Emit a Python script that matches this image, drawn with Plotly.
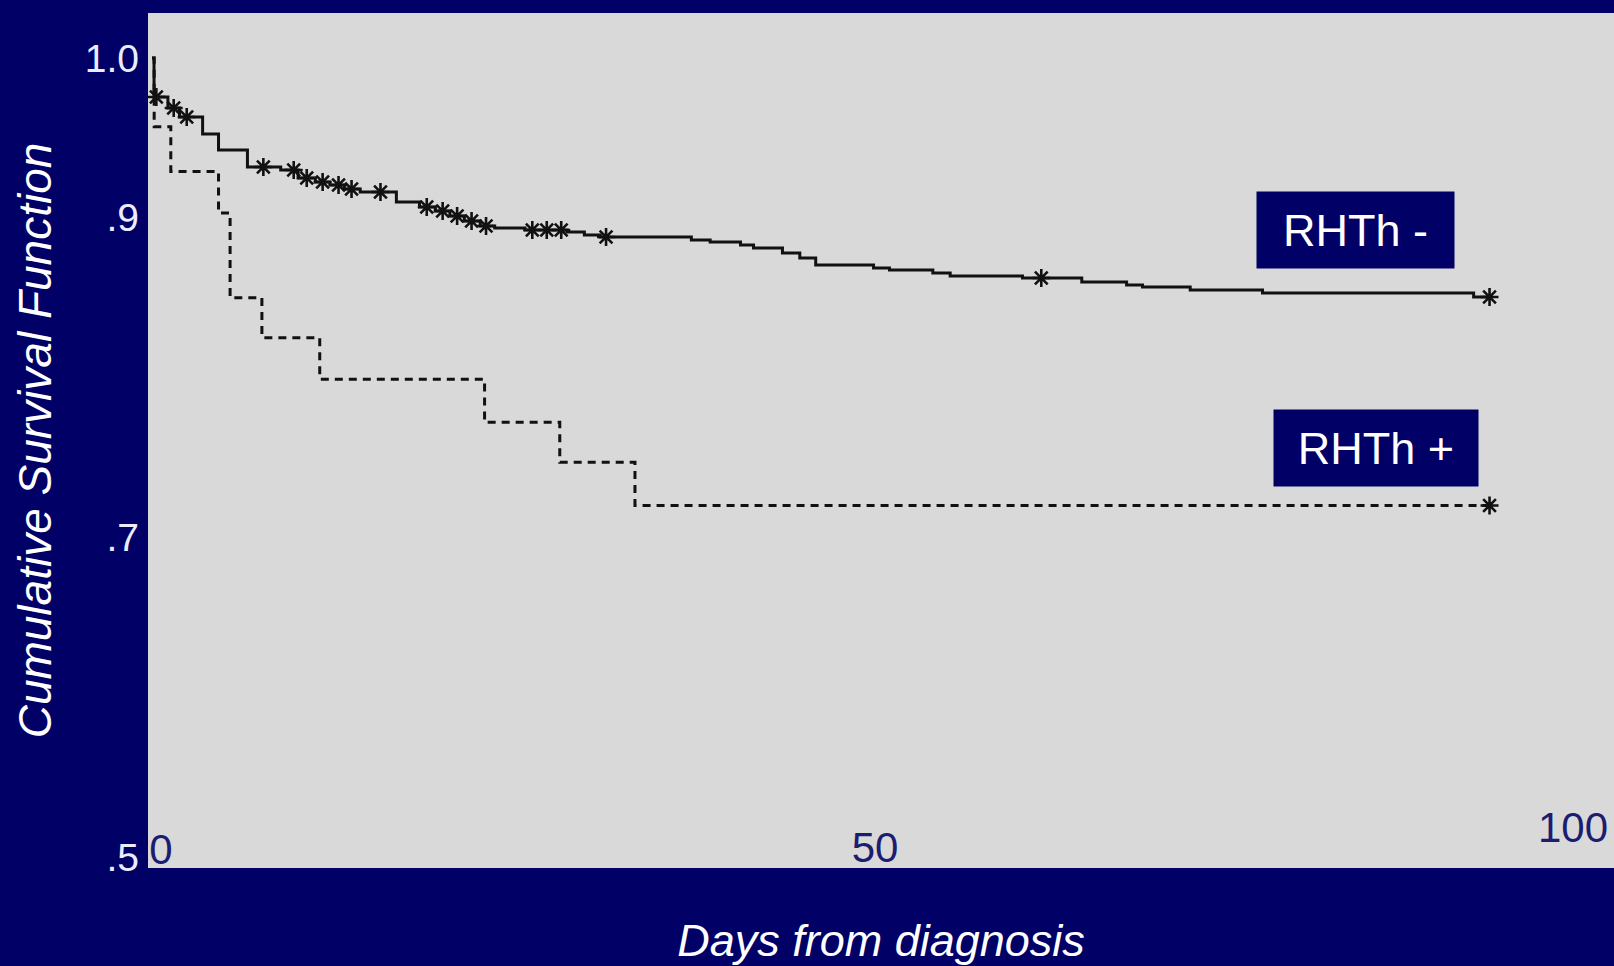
import plotly.graph_objects as go
import bisect

# ---- data ----
neg_days = [0, 0.14, 1.1, 1.9, 3.5, 4.6, 6.6, 8.9, 10.1, 11.3, 12.3, 13.3, 14.4, 16.9,
            18.5, 19.6, 20.6, 21.6, 22.7, 23.7, 25.8, 28.7, 29.9, 31.0, 37.3, 38.6,
            40.7, 41.6, 43.6, 44.8, 45.9, 49.9, 51.0, 54.0, 55.2, 60.2, 64.3, 67.4,
            68.5, 71.8, 76.8, 91.4, 92.5]
neg_surv = [1.0, 0.9756, 0.9687, 0.9631, 0.9524, 0.9424, 0.9318, 0.9299, 0.9249, 0.9224,
            0.9205, 0.9180, 0.9161, 0.9099, 0.9068, 0.9043, 0.9011, 0.8980, 0.8949,
            0.8936, 0.8924, 0.8911, 0.8892, 0.8880, 0.8861, 0.8849, 0.8830, 0.8811,
            0.8780, 0.8748, 0.8705, 0.8686, 0.8673, 0.8655, 0.8636, 0.8623, 0.8598,
            0.8579, 0.8567, 0.8548, 0.8529, 0.8504, 0.8504]
neg_censor = [0.3, 1.5, 2.4, 7.7, 9.8, 10.7, 11.8, 12.9, 13.8, 15.8, 19.0, 20.1, 21.1,
              22.1, 23.1, 26.3, 27.3, 28.3, 31.4, 61.5, 92.5]

pos_days = [0, 0.15, 1.3, 4.6, 5.4, 7.6, 11.6, 23.0, 28.2, 33.4, 92.5]
pos_surv = [1.0, 0.957, 0.929, 0.903, 0.850, 0.825, 0.799, 0.772, 0.747, 0.720, 0.720]
pos_censor = [92.5]

x_ticks = [0, 50, 100]
x_ticktext = ["0", "50", "100"]
y_ticks = [0.5, 0.7, 0.9, 1.0]
y_ticktext = [".5", ".7", ".9", "1.0"]

group_labels = ["RHTh -", "RHTh +"]


def at(days, surv, t):
    i = bisect.bisect_right(days, t) - 1
    return surv[max(i, 0)]


NAVY = "#000066"
INK = "#111111"
FONT = "Liberation Sans, Arial, sans-serif"
X_RANGE = [-0.277, 101.107]

fig = go.Figure()

fig.add_trace(go.Scatter(x=neg_days, y=neg_surv, mode="lines", line_shape="hv",
                         line=dict(color=INK, width=3), showlegend=False,
                         name=group_labels[0]))
fig.add_trace(go.Scatter(x=pos_days, y=pos_surv, mode="lines", line_shape="hv",
                         line=dict(color=INK, width=3, dash="8px,6px"),
                         showlegend=False, name=group_labels[1]))

cx = neg_censor + pos_censor
cy = [at(neg_days, neg_surv, t) for t in neg_censor] + [at(pos_days, pos_surv, t) for t in pos_censor]
fig.add_trace(go.Scatter(x=cx, y=cy, mode="markers", showlegend=False,
                         marker=dict(symbol="asterisk-open", size=15, color=INK,
                                     line=dict(color=INK, width=2.6))))

# empty traces so the overlay axes (carrying the 0 and 100 labels) are drawn
fig.add_trace(go.Scatter(x=[], y=[], xaxis="x2", showlegend=False, hoverinfo="skip"))
fig.add_trace(go.Scatter(x=[], y=[], xaxis="x3", showlegend=False, hoverinfo="skip"))

W, H = 1614, 966
L, R, T, B = 148, 0, 13, 98
pw, ph = W - L - R, H - T - B


def px2paper(x, y):
    return (x - L) / pw, (H - B - y) / ph


boxes = [((1355.5, 230), 185), ((1376, 448.5), 192)]
for lab, ((bx, by), bw) in zip(group_labels, boxes):
    xf, yf = px2paper(bx, by)
    fig.add_annotation(xref="paper", yref="paper", x=xf, y=yf, xanchor="center",
                       yanchor="middle", text=lab, showarrow=False,
                       font=dict(family=FONT, size=45, color="#ffffff"),
                       bgcolor=NAVY, width=bw, height=64, borderpad=6, align="center")

xtick_font = dict(family=FONT, size=42, color="#1c1c70")
common_x = dict(range=X_RANGE, ticklabelposition="inside", ticklabeloverflow="allow",
                ticks="", showgrid=False, zeroline=False, showline=False,
                automargin=False, tickfont=xtick_font)

fig.update_layout(
    width=W, height=H,
    margin=dict(l=L, r=R, t=T, b=B, pad=0),
    paper_bgcolor=NAVY,
    plot_bgcolor="#d9d9d9",
    template="none",
    showlegend=False,
    xaxis=dict(tickvals=[x_ticks[1]], ticktext=[x_ticktext[1]], ticklabelstandoff=-5,
               **common_x,
               title=dict(text="<i>Days from diagnosis</i>", standoff=58,
                          font=dict(family=FONT, size=45, color="#ffffff"))),
    xaxis2=dict(tickvals=[x_ticks[0]], ticktext=[x_ticktext[0]], overlaying="x",
                anchor="y", side="bottom", ticklabelshift=9, ticklabelstandoff=-7,
                **common_x),
    xaxis3=dict(tickvals=[x_ticks[2]], ticktext=[x_ticktext[2]], overlaying="x",
                anchor="y", side="bottom", ticklabelshift=-25, ticklabelstandoff=15,
                **common_x),
    yaxis=dict(range=[0.49312, 1.02816], tickvals=y_ticks, ticktext=y_ticktext,
               ticks="", ticklabelstandoff=8, showgrid=False, zeroline=False,
               showline=False, automargin=False,
               tickfont=dict(family=FONT, size=39, color="#ececff"),
               title=dict(text="<i>Cumulative Survival Function</i>", standoff=18,
                          font=dict(family=FONT, size=46, color="#ffffff"))),
)

fig.write_html("out.html")
